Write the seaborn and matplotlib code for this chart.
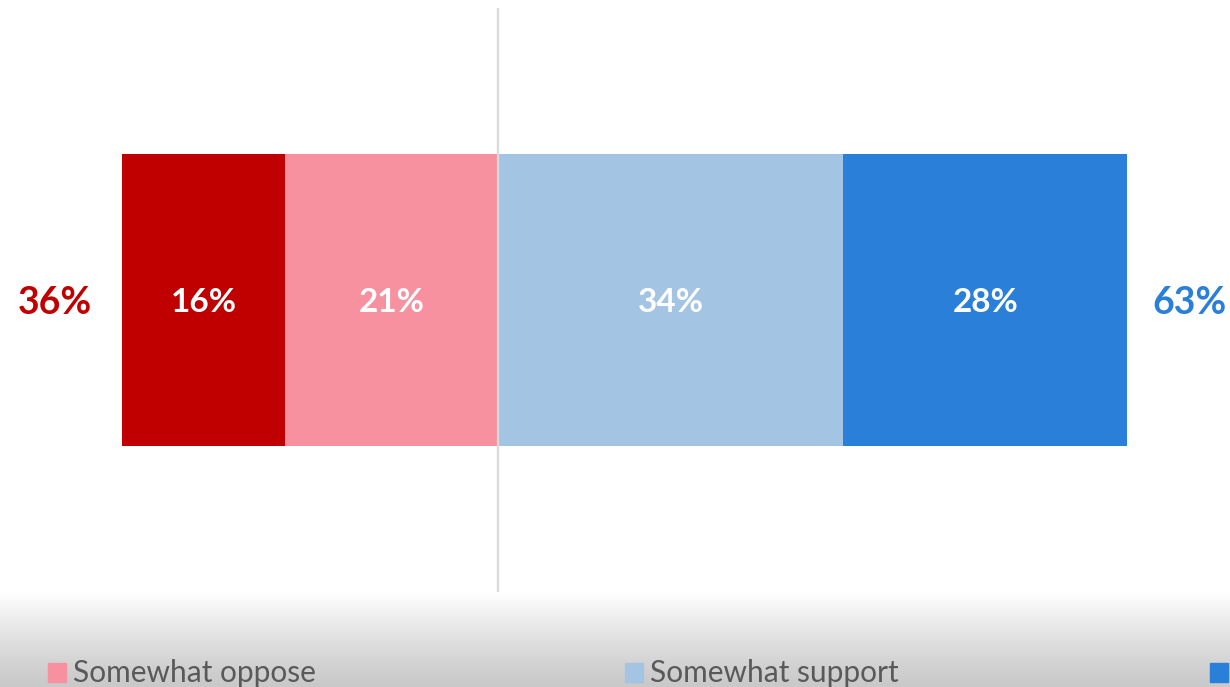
import numpy as np
import pandas as pd
import matplotlib
matplotlib.use("Agg")
import matplotlib.pyplot as plt
import seaborn as sns
from matplotlib.patches import Rectangle

# ========== Data ==========
categories = ["Strongly oppose", "Somewhat oppose", "Somewhat support", "Strongly support"]
values = [16, 21, 34, 28]
colors = ["#C00000", "#F8919F", "#A3C4E2", "#2A7FD8"]
oppose_total = "36%"
support_total = "63%"
legend_labels = ["Somewhat oppose", "Somewhat support", "Strongly support"]
legend_colors = ["#F8919F", "#A3C4E2", "#2A7FD8"]

# ========== Figure ==========
sns.set_theme(style="white")
plt.rcParams["font.family"] = ["Lato", "DejaVu Sans"]

W, H = 1230, 687
fig = plt.figure(figsize=(W / 100, H / 100), dpi=100)

# grey gradient band at the bottom
bg = fig.add_axes([0, 0, 1, 95 / H], zorder=0)
grad = np.linspace(0, 1, 100).reshape(-1, 1) ** 1.2
bg.imshow(grad, aspect="auto", cmap=matplotlib.colors.LinearSegmentedColormap.from_list(
    "g", ["#C9C9C9", "#FFFFFF"]), origin="lower", extent=[0, 1, 0, 1])
bg.set_axis_off()

ax = fig.add_axes([0, (H - 592) / H, 1, 584 / H], zorder=1)
ax.patch.set_alpha(0)

px_per = 10.15
zero_px = 498
ax.set_xlim(-zero_px / px_per, (W - zero_px) / px_per)

# cumulative widths, outermost segment drawn first
left_outer = -(values[0] + values[1])
left_inner = -values[1]
right_outer = values[2] + values[3]
right_inner = values[2]

df = pd.DataFrame({
    "q": ["Q"] * 4,
    "width": [left_outer, left_inner, right_outer, right_inner],
    "color": [colors[0], colors[1], colors[3], colors[2]],
})
for _, row in df.iterrows():
    sns.barplot(x=[row["width"]], y=[row["q"]], color=row["color"], width=1.0,
                orient="h", ax=ax, saturation=1, linewidth=0, zorder=2)

ax.set_ylim(1.0, -1.0)
ax.axvline(0, color="#D9D9D9", lw=1.6, zorder=3)

# segment labels
starts = [left_outer, left_inner, 0, right_inner]
for s, v in zip(starts, values):
    ax.text(s + v / 2, 0.01, f"{v}%", ha="center", va="center", color="white",
            fontsize=24, fontweight="bold", zorder=4)

ax.annotate(oppose_total, xy=(left_outer, 0.01), xytext=(-30 * 0.72, 0),
            textcoords="offset points", ha="right", va="center",
            color=colors[0], fontsize=27, fontweight="bold")
ax.annotate(support_total, xy=(right_outer, 0.01), xytext=(25 * 0.72, 0),
            textcoords="offset points", ha="left", va="center",
            color=colors[3], fontsize=27, fontweight="bold")

ax.set_axis_off()

# legend, the last entry runs off the right edge (only its swatch shows)
leg_x = [48, 625, 1210]
for i, (x0, lab, c) in enumerate(zip(leg_x, legend_labels, legend_colors)):
    fig.patches.append(Rectangle((x0 / W, (H - 682) / H), 18 / W, 19 / H,
                                 transform=fig.transFigure, color=c, zorder=5))
    if i < 2:
        fig.text((x0 + 25) / W, (H - 682) / H, lab, ha="left", va="baseline",
                 color="#595959", fontsize=21.5, zorder=5)

fig.savefig("out.png", dpi=100)
